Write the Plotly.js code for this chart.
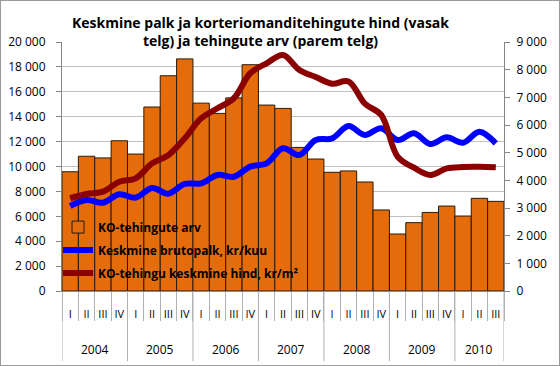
<!DOCTYPE html>
<html>
<head>
<meta charset="utf-8">
<script src="https://cdn.plot.ly/plotly-3.0.1.min.js"></script>
<style>
html,body{margin:0;padding:0;background:#fff;}
#chart{width:558px;height:364px;border:1px solid #9a9a9a;}
</style>
</head>
<body>
<div id="chart"></div>
<script>
const years = ['2004','2004','2004','2004','2005','2005','2005','2005','2006','2006','2006','2006','2007','2007','2007','2007','2008','2008','2008','2008','2009','2009','2009','2009','2010','2010','2010'];
const quarters = ['I','II','III','IV','I','II','III','IV','I','II','III','IV','I','II','III','IV','I','II','III','IV','I','II','III','IV','I','II','III'];
const tehingudArv = [4310, 4870, 4810, 5430, 4950, 6650, 7780, 8390, 6790, 6420, 6980, 8180, 6720, 6600, 5190, 4770, 4290, 4340, 3940, 2930, 2060, 2470, 2840, 3070, 2710, 3350, 3240];
const brutopalk = [6830, 7310, 7090, 7770, 7500, 8280, 7820, 8600, 8650, 9320, 9180, 9990, 10250, 11460, 10920, 12130, 12260, 13250, 12530, 13070, 12130, 12670, 11810, 12340, 11910, 12800, 11860];
const keskmineHind = [7450, 7790, 7980, 8780, 9050, 10250, 10920, 12270, 13870, 14680, 15480, 17490, 18290, 18960, 17750, 17190, 16650, 16830, 15050, 14140, 10800, 9900, 9320, 9850, 9960, 9980, 9930];

const names = ['KO-tehingute arv', 'Keskmine brutopalk, kr/kuu', 'KO-tehingu keskmine hind, kr/m²'];

// positions on the category scale (one slot per quarter)
const idx = quarters.map((q, i) => i);

// year groups derived from the years array
const yearGroups = [];
years.forEach((y, i) => {
  const last = yearGroups[yearGroups.length - 1];
  if (last && last.year === y) { last.end = i; } else { yearGroups.push({year: y, start: i, end: i}); }
});

const font = 'Open Sans, Liberation Sans, sans-serif';
const divColor = '#b0b0b0';

const traces = [
  {type:'bar', x:idx, y:tehingudArv, name:'<b>'+names[0]+'</b>', yaxis:'y', legendgroup:'a',
   marker:{color:'#E46C0A', line:{color:'#2a1a0a', width:1}}},
  {type:'scatter', mode:'lines', x:idx, y:brutopalk, name:'<b>'+names[1]+'</b>', yaxis:'y2', legendgroup:'b',
   line:{color:'#0000FF', width:6, shape:'spline', smoothing:1}},
  {type:'scatter', mode:'lines', x:idx, y:keskmineHind, name:'<b>'+names[2]+'</b>', yaxis:'y2', legendgroup:'c',
   line:{color:'#8B0000', width:6, shape:'spline', smoothing:1}}
];

const annotations = yearGroups.map(g => ({
  x:(g.start + g.end) / 2, xref:'x', y:-0.233, yref:'paper', yanchor:'middle',
  text:g.year, showarrow:false, font:{family:font, size:12, color:'#000'}
}));

const shapes = [];
yearGroups.forEach((g, k) => {
  shapes.push({type:'line', xref:'x', yref:'paper', x0:g.start - 0.5, x1:g.start - 0.5, y0:0, y1:-0.282,
               line:{color:divColor, width:1}});
  if (k === yearGroups.length - 1) {
    shapes.push({type:'line', xref:'x', yref:'paper', x0:g.end + 0.5, x1:g.end + 0.5, y0:0, y1:-0.282,
                 line:{color:divColor, width:1}});
  }
});

const layout = {
  width:558, height:364,
  margin:{l:61, r:55, t:41, b:74},
  paper_bgcolor:'#fff', plot_bgcolor:'rgba(0,0,0,0)',
  separators:', ',
  font:{family:font, size:12, color:'#000'},
  title:{text:'<b>Keskmine palk ja korteriomanditehingute hind (vasak<br>telg) ja tehingute arv (parem telg)</b>',
         font:{family:font, size:14, color:'#000'}, x:0.465, xanchor:'center',
         yref:'container', y:0.926, yanchor:'middle'},
  showlegend:true,
  legend:{x:-0.009, xanchor:'left', y:0.315, yanchor:'top', bgcolor:'rgba(0,0,0,0)',
          traceorder:'grouped', tracegroupgap:4,
          font:{family:font, size:12, color:'#000'}},
  bargap:0,
  annotations:annotations,
  shapes:shapes,
  xaxis:{type:'linear', range:[-0.5, idx.length - 0.5], showline:true, linecolor:'#868686', linewidth:1,
         tickmode:'array', tickvals:idx, ticktext:quarters, ticks:'', tickangle:0,
         ticklabelstandoff:13,
         minor:{tick0:-0.5, dtick:1, ticks:'outside', ticklen:29, tickcolor:divColor, showgrid:false},
         tickfont:{family:font, size:11, color:'#000'}, showgrid:false, zeroline:false},
  yaxis:{side:'right', range:[0,9000], dtick:1000, showgrid:false, tickformat:',d', separatethousands:true,
         showline:true, linecolor:'#868686', ticks:'outside', ticklen:5, tickcolor:'#868686',
         tickfont:{family:font, size:12, color:'#000'}, ticklabelstandoff:4, zeroline:false},
  yaxis2:{side:'left', overlaying:'y', range:[0,20000], dtick:2000, tickformat:',d', separatethousands:true,
          showgrid:true, gridcolor:'#c0c0c0', gridwidth:1,
          showline:true, linecolor:'#868686', ticks:'outside', ticklen:5, tickcolor:'#868686',
          tickfont:{family:font, size:12, color:'#000'}, ticklabelstandoff:8, zeroline:false}
};

Plotly.newPlot('chart', traces, layout, {displayModeBar:false, staticPlot:true});
</script>
</body>
</html>
